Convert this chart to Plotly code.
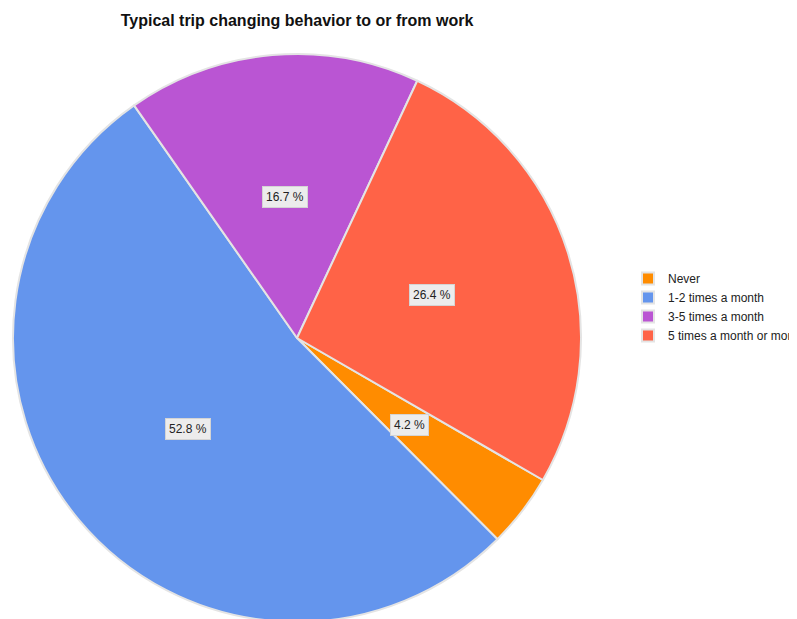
import math
import plotly.graph_objects as go

categories = ["Never", "1-2 times a month", "3-5 times a month", "5 times a month or more"]
percents = [4.2, 52.8, 16.7, 26.4]
colors = ["#FF8C00", "#6495ED", "#BA55D3", "#FF6347"]
title_text = "Typical trip changing behavior to or from work"

# page is shown with the browser's default 8px body margin
OFF = 8
W, H = 797, 619
ML, MR, MT, MB = 5, 0, 46, 5
start_angle = 120  # degrees clockwise from 12 o'clock

plot_w = W - ML - MR
plot_h = H - MT - MB
dom_x = [0, 568 / plot_w]
dom_y = [0, 1]

fig = go.Figure()
fig.add_trace(go.Pie(
    labels=categories,
    values=percents,
    sort=False,
    direction="clockwise",
    rotation=start_angle,
    marker=dict(colors=colors, line=dict(color="#e4e4e4", width=2)),
    textinfo="none",
    hoverinfo="label+percent",
    domain=dict(x=dom_x, y=dom_y),
))

# label positions at half radius along each slice bisector
dom_w_px = (dom_x[1] - dom_x[0]) * plot_w
dom_h_px = (dom_y[1] - dom_y[0]) * plot_h
r_px = min(dom_w_px, dom_h_px) / 2
cx = (dom_x[0] + dom_x[1]) / 2
cy = (dom_y[0] + dom_y[1]) / 2
total = sum(percents)
cum = 0.0
annotations = []
for p in percents:
    mid = start_angle + (cum + p / 2) / total * 360
    cum += p
    a = math.radians(mid)
    x = cx + 0.5 * r_px * math.sin(a) / plot_w
    y = cy + 0.5 * r_px * math.cos(a) / plot_h
    annotations.append(dict(
        x=x, y=y, xref="paper", yref="paper",
        xanchor="center", yanchor="middle",
        text=f"{p:.1f} %", showarrow=False,
        font=dict(family="Liberation Sans, Arial, sans-serif", size=12, color="#222222"),
        bgcolor="#ececec", bordercolor="#d4d4d4", borderwidth=1, borderpad=3,
    ))

fig.update_layout(
    width=W, height=H,
    margin=dict(l=ML, r=MR, t=MT, b=MB),
    paper_bgcolor="white",
    plot_bgcolor="white",
    title=dict(
        text=f"<b>{title_text}</b>",
        x=(297 - OFF) / W, xanchor="center",
        y=1 - (20 - OFF) / H, yanchor="middle",
        font=dict(family="Liberation Sans, Arial, sans-serif", size=16, color="#111111"),
    ),
    legend=dict(
        x=(668 - OFF - 40 - ML) / plot_w, xanchor="left",
        y=(H - MB - (307 - OFF)) / plot_h, yanchor="middle",
        font=dict(family="Liberation Sans, Arial, sans-serif", size=12, color="#222222"),
        tracegroupgap=0,
        itemwidth=30,
    ),
    annotations=annotations,
)

fig.write_html("out.html")
